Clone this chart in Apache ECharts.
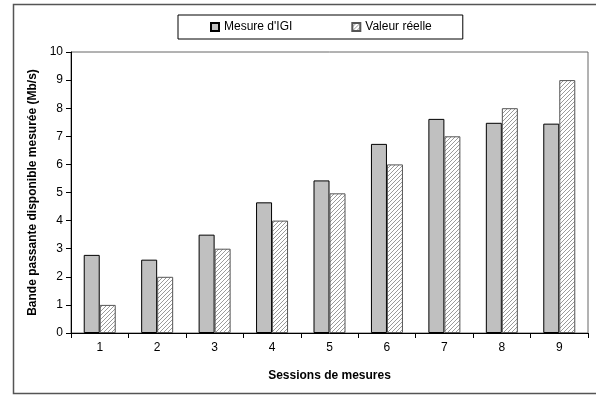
<!DOCTYPE html>
<html>
<head>
<meta charset="utf-8">
<script src="https://cdn.jsdelivr.net/npm/echarts@6/dist/echarts.min.js"></script>
<style>
html,body{margin:0;padding:0;background:#fff;}
#chart{width:596px;height:396px;}
</style>
</head>
<body>
<div id="chart"></div>
<script>
const categories = ['1','2','3','4','5','6','7','8','9'];
const mesureIGI = [2.78, 2.61, 3.5, 4.65, 5.43, 6.73, 7.62, 7.48, 7.45];
const valeurReelle = [1, 2, 3, 4, 4.97, 6, 7, 8, 9];
const seriesNames = ["Mesure d'IGI", 'Valeur réelle'];

function hatch() {
  const c = document.createElement('canvas');
  c.width = 4; c.height = 4;
  const g = c.getContext('2d');
  g.fillStyle = '#ffffff';
  g.fillRect(0, 0, 4, 4);
  g.strokeStyle = '#9a9a9a';
  g.lineWidth = 1;
  g.beginPath();
  g.moveTo(0, 4); g.lineTo(4, 0);
  g.moveTo(-1, 1); g.lineTo(1, -1);
  g.moveTo(3, 5); g.lineTo(5, 3);
  g.stroke();
  return c;
}

const FONT = 'Liberation Sans, Arial, sans-serif';
const chart = echarts.init(document.getElementById('chart'), null, {renderer: 'canvas'});
chart.setOption({
  animation: false,
  backgroundColor: '#fff',
  textStyle: {fontFamily: FONT},
  graphic: [{
    type: 'rect', silent: true, z: -1,
    shape: {x: 13.5, y: 4.5, width: 600, height: 389},
    style: {fill: 'none', stroke: '#555', lineWidth: 1.5}
  }],
  legend: {
    left: 178, top: 15,
    padding: [6, 31, 6, 32],
    itemWidth: 8, itemHeight: 8, itemGap: 59,
    icon: 'rect',
    borderColor: '#000', borderWidth: 1,
    textStyle: {fontFamily: FONT, fontSize: 12, color: '#000'},
    data: seriesNames
  },
  grid: {
    left: 71, top: 52, right: 8, bottom: 63,
    show: true, borderColor: '#666', borderWidth: 1, backgroundColor: '#fff'
  },
  xAxis: {
    type: 'category', data: categories,
    name: 'Sessions de mesures', nameLocation: 'middle', nameGap: 37,
    nameTextStyle: {fontFamily: FONT, fontSize: 12, fontWeight: 'bold', color: '#000'},
    axisLine: {lineStyle: {color: '#000', width: 1}},
    axisTick: {show: true, length: 5, inside: false, lineStyle: {color: '#000'}},
    axisLabel: {color: '#000', fontSize: 12, fontFamily: FONT, margin: 9}
  },
  yAxis: {
    type: 'value', min: 0, max: 10, interval: 1,
    name: 'Bande passante disponible mesurée (Mb/s)', nameLocation: 'middle', nameGap: 30,
    nameTextStyle: {fontFamily: FONT, fontSize: 12, fontWeight: 'bold', color: '#000'},
    axisLine: {show: true, lineStyle: {color: '#000', width: 1}},
    axisTick: {show: true, length: 5, inside: false, lineStyle: {color: '#000'}},
    axisLabel: {color: '#000', fontSize: 12, fontFamily: FONT, margin: 8},
    splitLine: {show: false}
  },
  series: [
    {
      name: seriesNames[0], type: 'bar', data: mesureIGI,
      barWidth: 16, barGap: '0%',
      itemStyle: {color: '#c0c0c0', borderColor: '#000', borderWidth: 1}
    },
    {
      name: seriesNames[1], type: 'bar', data: valeurReelle,
      barWidth: 16, barGap: '0%',
      itemStyle: {color: {image: hatch(), repeat: 'repeat'}, borderColor: '#555', borderWidth: 1}
    }
  ]
});
</script>
</body>
</html>
